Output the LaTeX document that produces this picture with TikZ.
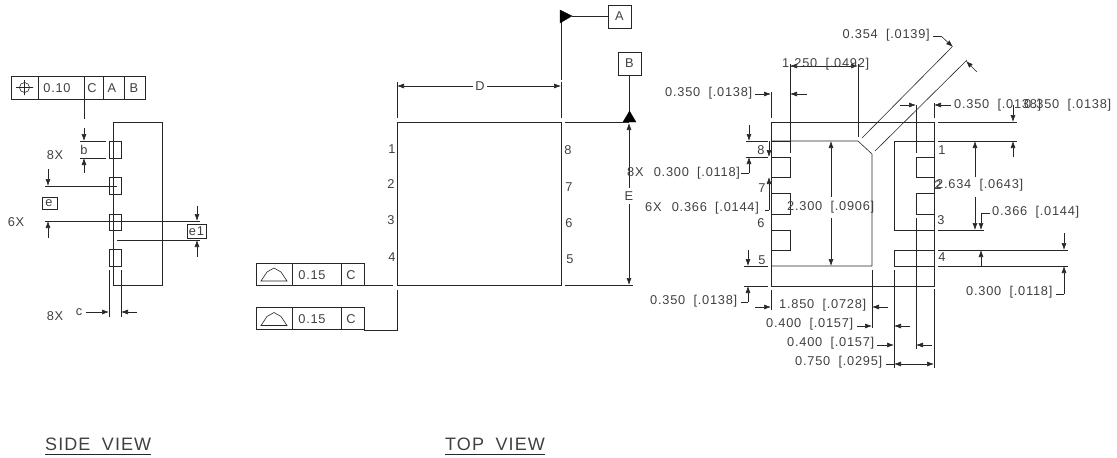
\documentclass[tikz,border=0pt]{standalone}
\usepackage{fontspec}
\setmainfont{Liberation Sans}[LetterSpace=6,WordSpace=1.9]
\usetikzlibrary{arrows.meta}
\tikzset{
 ln/.style={line width=0.6pt,black!85},
 ar/.style={ln,-{Latex[length=7pt,width=5pt]}},
 ar2/.style={ln,{Latex[length=7pt,width=5pt]}-{Latex[length=7pt,width=5pt]}},
 tx/.style={inner sep=0pt,font=\fontsize{12.8}{13}\selectfont,text=black!75},
 txl/.style={tx,anchor=west},
 txr/.style={tx,anchor=east},
 ttl/.style={tx,anchor=west,font=\fontsize{18}{20}\selectfont},
 solid tri/.style={fill=black,draw=black,line width=0.3pt}
}
\begin{document}
\begin{tikzpicture}[x=1pt,y=-1pt]
\useasboundingbox (0,0) rectangle (1117,458);
%%% SIDE VIEW
\draw[ln] (11,76) rectangle (145,99);
\foreach \x in {38,84,103,124} \draw[ln] (\x,76)--(\x,99);
\draw[ln] (24.5,87.5)circle(5pt) (24.5,80)--(24.5,95) (16,87.5)--(33,87.5);
\node[tx] (t010) at (57,88) {0.10};
\node[tx] at (92,88) {C};
\node[tx] at (112,88) {A};
\node[tx] at (134,88) {B};
\draw[ln] (84,99)--(84,119);
\draw[ar] (84,128)--(84,141);
\draw[ar] (84,173)--(84,158);
\draw[ln] (80,141)--(106,141) (80,158)--(106,158);
\node[tx] at (84,150) {b};
\node[tx] at (55,155) {8X};
\draw[ln] (113,122) rectangle (162,285);
\foreach \a/\b in {141/158,177/194,214/230,249/266} \draw[ln] (109,\a) rectangle (121,\b);
\draw[ln] (45,186)--(117,186) (45,221)--(200,221) (117,240)--(200,240);
\draw[ar] (48,169)--(48,186);
\draw[ar] (48,238)--(48,221);
\draw[ln] (42,197) rectangle (57,209);
\node[tx] at (49,203) {e};
\node[tx] at (16,222) {6X};
\draw[ln,fill=white] (187,224) rectangle (206,238);
\node[tx] at (196.5,231) {e1};
\draw[ar] (197,206)--(197,221);
\draw[ar] (197,257)--(197,240);
\draw[ln] (109,270)--(109,317) (121,270)--(121,317);
\draw[ar] (86,312)--(109,312);
\draw[ar] (137,312)--(121,312);
\node[tx] at (79,312) {c};
\node[tx] at (55,316) {8X};
\node[ttl] (sv) at (45,444) {SIDE VIEW};
\draw[ln] (45,454)--(151,454);
%%% TOP VIEW
\draw[ln] (397,122) rectangle (561,285);
\draw[ln] (561,16)--(561,80) (572,16)--(608,16);
\fill[solid tri] (560,10)--(560,23)--(572,16)--cycle;
\draw[ln] (608,5) rectangle (631,28);
\node[tx] at (619.5,16) {A};
\draw[ln] (618,52) rectangle (641,75);
\node[tx] at (629.5,63) {B};
\draw[ln] (629.5,75)--(629.5,112);
\fill[solid tri] (623,122)--(636,122)--(629.5,111)--cycle;
\draw[ln] (565,122)--(629,122) (565,285)--(633,285);
\draw[ar] (629,188)--(629,123);
\draw[ar] (629,204)--(629,285);
\node[tx] at (629,196) {E};
\draw[ln] (397,82)--(397,118) (561,82)--(561,118);
\draw[ar] (473,86)--(397,86);
\draw[ar] (487,86)--(561,86);
\node[tx] at (480,86) {D};
\foreach \t/\x/\y in {1/392/149,2/391/184,3/391/220,4/392/257,8/568/150,7/569/187,6/569/223,5/570/259}
  \node[tx] at (\x,\y) {\t};
\foreach \o/\l in {0/364,44.5/397}{
 \begin{scope}[yshift=\o*-1pt]
 \draw[ln] (256,263) rectangle (364,285);
 \draw[ln] (292,263)--(292,285) (341,263)--(341,285);
 \draw[ln] (261,281)--(267,272)--(274,268)--(281,272)--(287,281)--cycle;
 \node[tx] at (312,275) {0.15};
 \node[tx] at (351,275) {C};
 \end{scope}}
\draw[ln] (364,285)--(393,285);
\draw[ln] (364,330)--(397,330)--(397,290);
\node[ttl] (tv) at (445,444) {TOP VIEW};
\draw[ln] (445,454)--(545,454);
%%% RIGHT VIEW
\draw[ln] (771,122) rectangle (934,286);
\draw[ln] (771,141)--(858,141)--(872,154)--(872,266)--(771,266);
\foreach \a/\b in {157/177,193/214,230/250} \draw[ln] (771,\a)--(790,\a)--(790,\b)--(771,\b);
\draw[ln] (934,141)--(894,141)--(894,230)--(934,230);
\draw[ln] (934,250)--(894,250)--(894,266)--(934,266);
\foreach \a/\b in {157/177,193/214} \draw[ln] (934,\a)--(916,\a)--(916,\b)--(934,\b);
\draw[ln] (771,141)--(790,141);
\draw[ln] (862,138)--(952,47) (875,151)--(967,60);
\draw[ln] (933,36)--(941,36);
\draw[ar] (941,36)--(953,47);
\draw[ar] (977,72)--(966,61);
\node[txr] at (930,35) {0.354 [.0139]};
% ext lines
\draw[ln] (771,92)--(771,118) (790,64)--(790,153) (858,64)--(858,137);
\draw[ln] (916,105)--(916,153) (916,218)--(916,349) (934,103)--(934,118) (934,289)--(934,368) (894,270)--(894,368);
\draw[ln] (771,290)--(771,310) (872,270)--(872,328);
\draw[ln] (938,122)--(1017,122) (938,141)--(1017,141) (938,230)--(984,230) (938,250)--(1068,250) (938,266)--(1068,266);
\draw[ln] (746,141)--(768,141) (746,157)--(768,157) (744,266)--(768,266) (744,286)--(768,286);
% dims
\node[txl] at (665,93) {0.350 [.0138]};
\draw[ar] (755,94)--(771,94);
\draw[ar] (807,94)--(790,94);
\draw[ar2] (790,66)--(858,66);
\node[txl] at (782,64) {1.250 [.0492]};
\draw[ar] (900,105)--(916,105);
\draw[ar] (951,105)--(934,105);
\node[txl] at (954,105) {0.350 [.0138]};
\node[txl] at (1024,105) {0.350 [.0138]};
\draw[ar] (1013,105)--(1013,122);
\draw[ar] (1013,157)--(1013,141);
\draw[ar] (975,177)--(975,141);
\draw[ar] (975,197)--(975,230);
\node[txl] at (936,185) {2.634 [.0643]};
\draw[ln] (990,213)--(981,213);
\draw[ar] (981,213)--(981,230);
\draw[ar] (981,266)--(981,250);
\node[txl] at (992,212) {0.366 [.0144]};
\draw[ar] (831,197)--(831,141);
\draw[ar] (831,218)--(831,266);
\node[txl] at (787,207) {2.300 [.0906]};
\node[txl] at (627,173) {8X\hspace{2pt} 0.300 [.0118]};
\draw[ln] (741,173)--(749,173);
\draw[ar] (749,173)--(749,157);
\draw[ar] (749,125)--(749,141);
\draw[ar] (769,141)--(769,157);
\draw[ar] (769,210)--(769,177);
\draw[ln] (765,210)--(769,210);
\node[txl] at (645,208) {6X\hspace{2pt} 0.366 [.0144]};
\foreach \t/\x/\y in {8/761/150,7/762/188,6/761/223,5/762/260,1/942/150,2/938/185,3/941/220,4/942/257}
  \node[tx] at (\x,\y) {\t};
\draw[ar] (748,250)--(748,266);
\draw[ar] (748,302)--(748,286);
\draw[ln] (741,302)--(748,302);
\node[txl] at (650,301) {0.350 [.0138]};
\draw[ar] (755,307)--(771,307);
\draw[ar] (888,307)--(872,307);
\node[txl] at (779,305) {1.850 [.0728]};
\node[txl] at (766,324) {0.400 [.0157]};
\draw[ar] (857,326)--(872,326);
\draw[ar] (910,326)--(894,326);
\node[txl] at (787,343) {0.400 [.0157]};
\draw[ar] (877,345)--(894,345);
\draw[ar] (932,345)--(916,345);
\node[txl] at (795,362) {0.750 [.0295]};
\draw[ln] (886,364)--(894,364);
\draw[ar2] (894,364)--(934,364);
\draw[ln] (1056,294)--(1064,294);
\draw[ar] (1064,294)--(1064,266);
\draw[ar] (1064,233)--(1064,250);
\node[txl] at (966,292) {0.300 [.0118]};
\end{tikzpicture}
\end{document}
